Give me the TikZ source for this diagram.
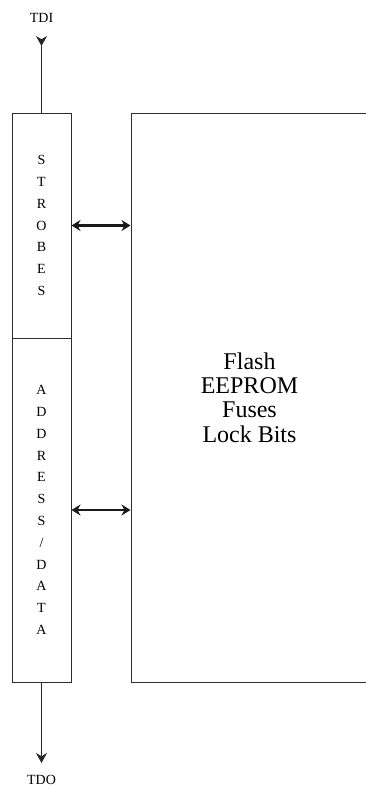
\documentclass[tikz,border=0pt]{standalone}
\usepackage{fontspec}
\setmainfont{Liberation Serif}
\usepackage{tikz}
\usetikzlibrary{arrows.meta,positioning,calc}
\usepackage{xcolor}
\definecolor{boxline}{RGB}{45,45,45}

\tikzset{
  regbox/.style={draw=boxline,line width=1pt,minimum width=59pt,inner sep=0pt,
    align=center,font=\fontsize{14}{21.8}\selectfont},
  busarrow/.style={{Stealth[length=9pt,width=11pt]}-{Stealth[length=9pt,width=11pt]},line width=2.4pt,black!90},
  pinline/.style={line width=1.1pt,black!85}
}

\begin{document}
\begin{tikzpicture}[x=1pt,y=-1pt]
    \useasboundingbox (0,0) rectangle (365,788);

    % Scan chain column
    \node[regbox,minimum height=225pt] (strobes) at (41.5,225.5)
      {S\\T\\R\\O\\B\\E\\S};
    \node[regbox,minimum height=344pt] (addr) at (41.5,510)
      {A\\D\\D\\R\\E\\S\\S\\/\\D\\A\\T\\A};

    % Memory block
    \node[draw=boxline,line width=1pt,minimum width=237pt,minimum height=569pt,
      align=center,font=\fontsize{24}{24.3}\selectfont] (mem) at (249.5,397.5)
      {Flash\\EEPROM\\Fuses\\Lock Bits};

    % Pins
    \node[font=\fontsize{14}{16}\selectfont] (tdi) at (41.5,18) {TDI};
    \node[font=\fontsize{14}{16}\selectfont] (tdo) at (41.5,780) {TDO};
    \coordinate (tdiend) at (41.5,36);
    \coordinate (tdoend) at (41.5,763);
    \draw[pinline,{Stealth[reversed,length=10pt,width=11pt]}-] (tdiend) -- (strobes.north);
    \draw[pinline,-{Stealth[length=10pt,width=11pt]}] (addr.south) -- (tdoend);

    % Bus arrows
    \draw[busarrow] (strobes.east) -- (strobes.east -| mem.west);
    \draw[busarrow] (addr.east) -- (addr.east -| mem.west);
\end{tikzpicture}
\end{document}
